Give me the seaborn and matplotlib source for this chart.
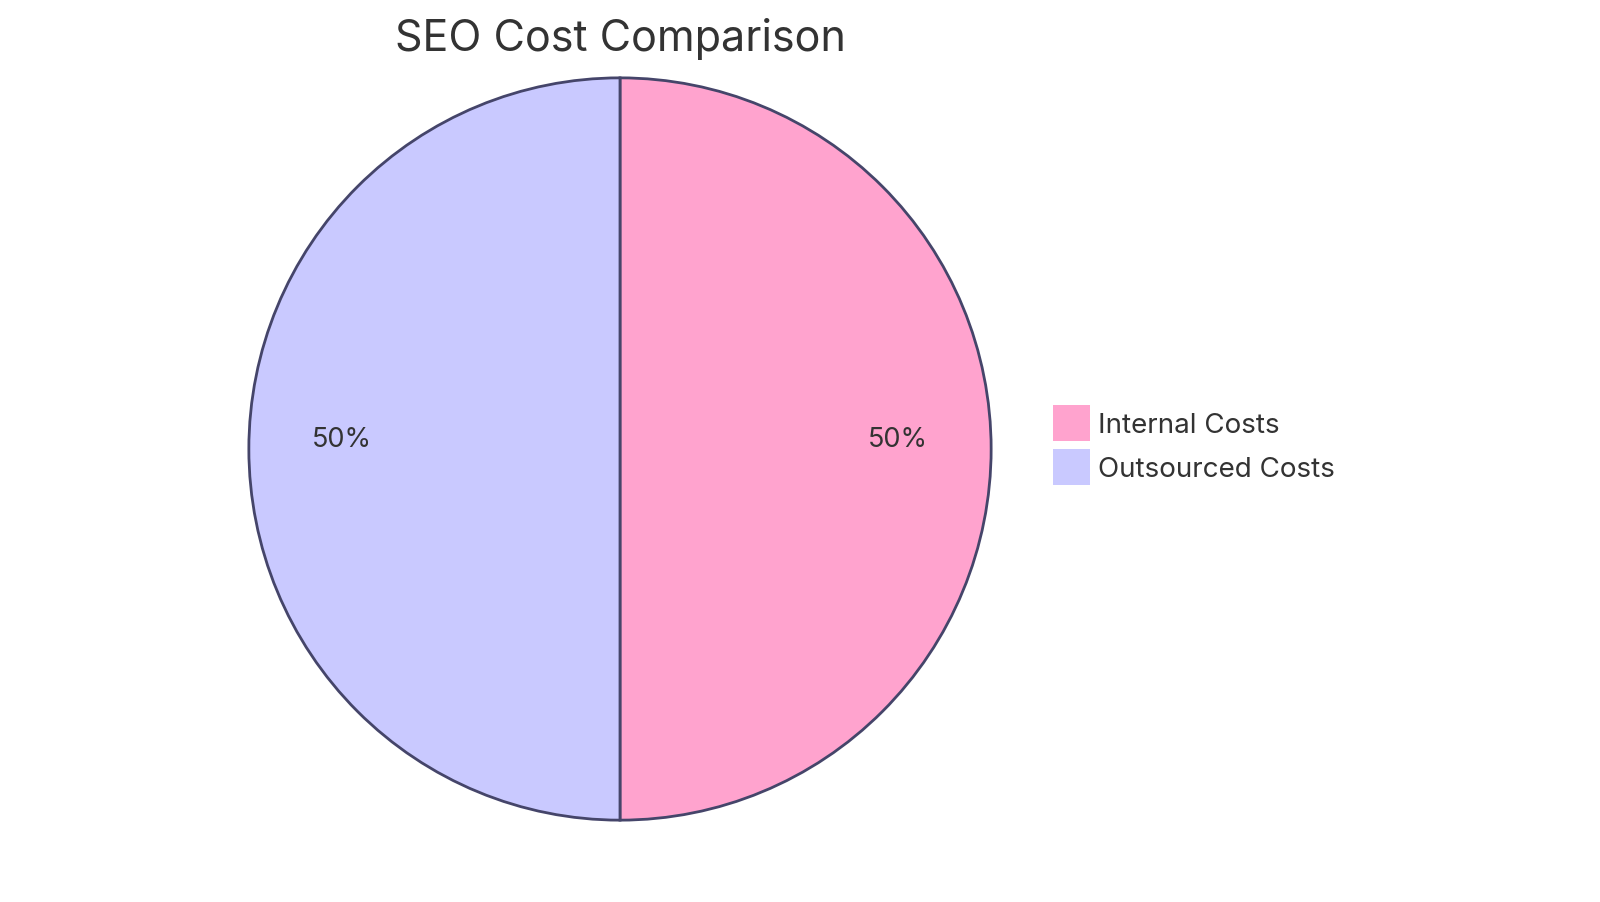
import matplotlib
matplotlib.use("Agg")
import matplotlib.pyplot as plt
import seaborn as sns

# datos
categorias = ["Internal Costs", "Outsourced Costs"]
valores = [50, 50]
colores = ["#FFA3CE", "#C9C9FF"]
titulo = "SEO Cost Comparison"

sns.set_theme(style="white")
plt.rcParams['font.family'] = ['Inter', 'DejaVu Sans']
texto = "#333333"
borde = "#45456A"

W, H = 1600, 903
fig = plt.figure(figsize=(W / 100, H / 100), dpi=100)
fig.patch.set_facecolor("white")

# centro y radio del pastel en píxeles
cx, cy, r = 620, 450, 373
ax = fig.add_axes([(cx - r) / W, (H - cy - r) / H, 2 * r / W, 2 * r / H])

wedges, _, autotexts = ax.pie(
    valores,
    colors=colores,
    startangle=90,
    counterclock=False,
    autopct='%1.0f%%',
    pctdistance=0.75,
    radius=1,
    wedgeprops=dict(edgecolor=borde, linewidth=2),
    textprops=dict(color=texto, fontsize=19.5),
)
# las etiquetas quedan un poco por encima del centro
for t in autotexts:
    x, y = t.get_position()
    t.set_position((x, y + 0.027))

ax.set_xlim(-1.005, 1.005)
ax.set_ylim(-1.005, 1.005)
ax.set_aspect('equal')
ax.axis('off')

fig.text(cx / W, 1 - 39 / H, titulo, ha='center', va='center',
         fontsize=31, color=texto)

leg = fig.legend(
    wedges, categorias,
    loc='center left',
    bbox_to_anchor=(1053 / W, 1 - 446 / H),
    frameon=False,
    fontsize=20,
    handlelength=1.32,
    handleheight=1.61,
    handletextpad=0.3,
    labelspacing=0.3,
    borderpad=0,
    borderaxespad=0,
)
for t in leg.get_texts():
    t.set_color(texto)
for p in leg.get_patches():
    p.set_edgecolor("none")

fig.savefig("out.png", dpi=100, facecolor="white")
